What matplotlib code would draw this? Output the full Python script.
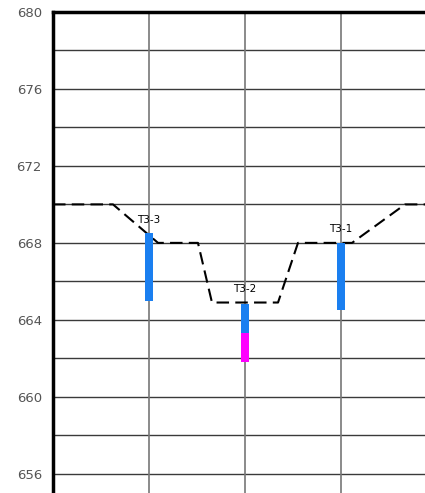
import matplotlib.pyplot as plt

# ground profile (dashed)
ground_x = [0.0, 0.625, 1.094, 1.51, 1.656, 2.344, 2.552, 3.115, 3.667, 3.875]
ground_y = [670.0, 670.0, 668.0, 668.0, 664.9, 664.9, 668.0, 668.0, 670.0, 670.0]

# boreholes
bh_names = ['T3-3', 'T3-2', 'T3-1']
bh_x = [1, 2, 3]
bh_top = [668.5, 664.8, 668.0]
bh_blue_bottom = [665.0, 663.3, 664.5]
bh_pink_bottom = [None, 661.8, None]
label_y = [669.2, 665.6, 668.7]

fig = plt.figure(figsize=(4.25, 4.93), dpi=100)
ax = fig.add_axes([53 / 425, 0, 1 - 53 / 425, 1 - 12 / 493])

for y in range(656, 681, 2):
    ax.axhline(y, color='#3a3a3a', lw=1.0, zorder=1)
for x in [1, 2, 3]:
    ax.axvline(x, color='#777777', lw=1.2, zorder=1)

ax.plot(ground_x, ground_y, color='black', lw=1.5, dashes=(6, 3), zorder=3)

w = 0.075
for name, x, top, bb, pb, ly in zip(bh_names, bh_x, bh_top, bh_blue_bottom, bh_pink_bottom, label_y):
    ax.bar(x, top - bb, bottom=bb, width=w, color='#1a7ff0', zorder=4)
    if pb is not None:
        ax.bar(x, bb - pb, bottom=pb, width=w, color='#ff00ff', zorder=4)
    ax.text(x, ly, name, ha='center', va='center', fontsize=7.5, color='black', zorder=5)

ax.set_xlim(0, 3.875)
ax.set_ylim(655, 680)
ax.set_yticks(range(656, 681, 4))
ax.set_xticks([])
ax.tick_params(axis='y', length=0, pad=8, labelsize=9.5, labelcolor='#555555')
for s in ['right', 'bottom']:
    ax.spines[s].set_visible(False)
for s in ['left', 'top']:
    ax.spines[s].set_linewidth(2.5)

fig.savefig('out.png', dpi=100)
